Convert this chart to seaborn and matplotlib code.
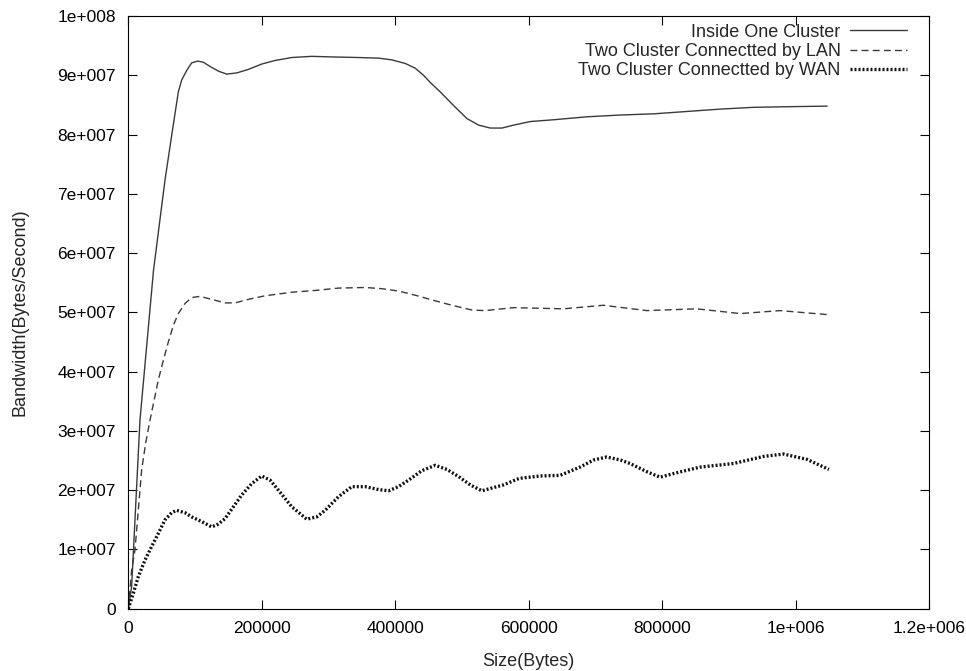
import matplotlib
matplotlib.use("Agg")
import matplotlib.pyplot as plt
import seaborn as sns
import pandas as pd

# Message size (bytes) and measured bandwidth (bytes/second) for each setup
one_size = [0, 5000, 17500, 37800, 55000, 65500, 75000, 80000, 87500, 95000,
            104000, 112500, 122500, 135000, 147500, 162500, 180000, 200000, 220000,
            245000, 275000, 305000, 345000, 375000, 395000, 415000, 430000, 442500,
            452500, 467500, 487500, 507500, 525000, 542500, 560000, 577500, 602500,
            637500, 687500, 737500, 787500, 837500, 887500, 937500, 987500, 1047500]
one_bw = [0.0, 0.37e7, 3.18e7, 5.71e7, 7.23e7, 8.02e7, 8.72e7, 8.92e7, 9.08e7, 9.21e7,
          9.24e7, 9.22e7, 9.15e7, 9.07e7, 9.02e7, 9.04e7, 9.10e7, 9.19e7, 9.25e7,
          9.30e7, 9.32e7, 9.31e7, 9.30e7, 9.29e7, 9.26e7, 9.20e7, 9.12e7, 9.00e7,
          8.88e7, 8.72e7, 8.49e7, 8.27e7, 8.16e7, 8.11e7, 8.11e7, 8.16e7, 8.22e7,
          8.25e7, 8.30e7, 8.33e7, 8.35e7, 8.39e7, 8.43e7, 8.46e7, 8.47e7, 8.48e7]

lan_size = [0, 5000, 10000, 15000, 20000, 26000, 32500, 45000, 52500, 60000, 67500,
            75000, 85000, 95000, 107500, 125000, 145000, 160000, 180000, 205000,
            245000, 280000, 315000, 355000, 380000, 405000, 430000, 455000, 485000,
            515000, 535000, 577000, 652000, 712000, 777000, 852000, 917000, 977000,
            1050000]
lan_bw = [0.0, 0.65e7, 0.99e7, 1.66e7, 2.34e7, 2.79e7, 3.18e7, 3.86e7, 4.19e7, 4.5e7,
          4.78e7, 4.98e7, 5.15e7, 5.25e7, 5.27e7, 5.22e7, 5.16e7, 5.16e7, 5.22e7,
          5.28e7, 5.34e7, 5.37e7, 5.41e7, 5.42e7, 5.40e7, 5.36e7, 5.29e7, 5.21e7,
          5.12e7, 5.04e7, 5.03e7, 5.08e7, 5.06e7, 5.12e7, 5.03e7, 5.06e7, 4.98e7,
          5.03e7, 4.96e7]

wan_size = [0, 7500, 15000, 25000, 35000, 45000, 55000, 65000, 72500, 85000, 95000,
            110000, 125000, 135000, 145000, 157500, 170000, 185000, 200000, 212500,
            225000, 245000, 267500, 282500, 295000, 315000, 335000, 355000, 375000,
            390000, 405000, 420000, 440000, 460000, 477500, 495000, 512500, 530000,
            562500, 586000, 617500, 647000, 677000, 697500, 717000, 737500, 752000,
            777500, 797000, 827500, 857000, 907000, 952000, 982000, 1017000, 1050000]
wan_bw = [0.0, 0.26e7, 0.54e7, 0.82e7, 1.05e7, 1.27e7, 1.50e7, 1.62e7, 1.66e7, 1.62e7,
          1.55e7, 1.47e7, 1.38e7, 1.43e7, 1.52e7, 1.72e7, 1.92e7, 2.11e7, 2.24e7,
          2.17e7, 2.00e7, 1.72e7, 1.51e7, 1.55e7, 1.66e7, 1.89e7, 2.06e7, 2.06e7,
          2.01e7, 1.99e7, 2.06e7, 2.17e7, 2.33e7, 2.42e7, 2.35e7, 2.23e7, 2.09e7,
          1.99e7, 2.09e7, 2.20e7, 2.24e7, 2.25e7, 2.39e7, 2.51e7, 2.56e7, 2.51e7,
          2.45e7, 2.31e7, 2.22e7, 2.31e7, 2.39e7, 2.45e7, 2.57e7, 2.61e7, 2.52e7,
          2.35e7]

series_names = ["Inside One Cluster",
                "Two Cluster Connectted by LAN",
                "Two Cluster Connectted by WAN"]

x_ticks = [0, 200000, 400000, 600000, 800000, 1000000, 1200000]
x_tick_labels = ["0", "200000", "400000", "600000", "800000", "1e+006", "1.2e+006"]
y_ticks = [0, 1e7, 2e7, 3e7, 4e7, 5e7, 6e7, 7e7, 8e7, 9e7, 1e8]
y_tick_labels = ["0", "1e+007", "2e+007", "3e+007", "4e+007", "5e+007",
                 "6e+007", "7e+007", "8e+007", "9e+007", "1e+008"]

sns.set_style("ticks")
plt.rcParams["font.family"] = ["Liberation Sans", "DejaVu Sans"]

fig = plt.figure(figsize=(9.66, 6.71), dpi=100)
ax = fig.add_axes([0.1328, 0.0928, 0.8289, 0.8833])

df_one = pd.DataFrame({"size": one_size, "bw": one_bw})
df_lan = pd.DataFrame({"size": lan_size, "bw": lan_bw})
df_wan = pd.DataFrame({"size": wan_size, "bw": wan_bw})

sns.lineplot(data=df_one, x="size", y="bw", ax=ax, color="#3a3a3a",
             linewidth=1.0, label=series_names[0], sort=False, estimator=None)
sns.lineplot(data=df_lan, x="size", y="bw", ax=ax, color="#3a3a3a",
             linewidth=1.0, linestyle=(0, (5, 3)), label=series_names[1],
             sort=False, estimator=None)
sns.lineplot(data=df_wan, x="size", y="bw", ax=ax, color="#111111",
             linewidth=2.4, linestyle=(0, (0.6, 0.6)), label=series_names[2],
             sort=False, estimator=None)

ax.set_xlim(0, 1200000)
ax.set_ylim(0, 1e8)
ax.set_xticks(x_ticks)
ax.set_xticklabels(x_tick_labels)
ax.set_yticks(y_ticks)
ax.set_yticklabels(y_tick_labels)
ax.tick_params(direction="in", length=6.5, width=0.8, top=True, right=True,
               labelsize=12.5, colors="black")
ax.tick_params(axis="y", pad=9)
ax.tick_params(axis="x", pad=9)
for sp in ax.spines.values():
    sp.set_visible(True)
    sp.set_linewidth(0.8)
    sp.set_color("black")

ax.set_xlabel("Size(Bytes)", fontsize=13, labelpad=12)
ax.set_ylabel("Bandwidth(Bytes/Second)", fontsize=13, labelpad=21)

leg = ax.legend(loc="upper right", bbox_to_anchor=(0.973, 0.987),
                frameon=False, markerfirst=False, fontsize=13,
                handlelength=3.2, handletextpad=0.5, labelspacing=0.12,
                borderaxespad=0.0, borderpad=0.0)

fig.savefig("out.png", dpi=100)
